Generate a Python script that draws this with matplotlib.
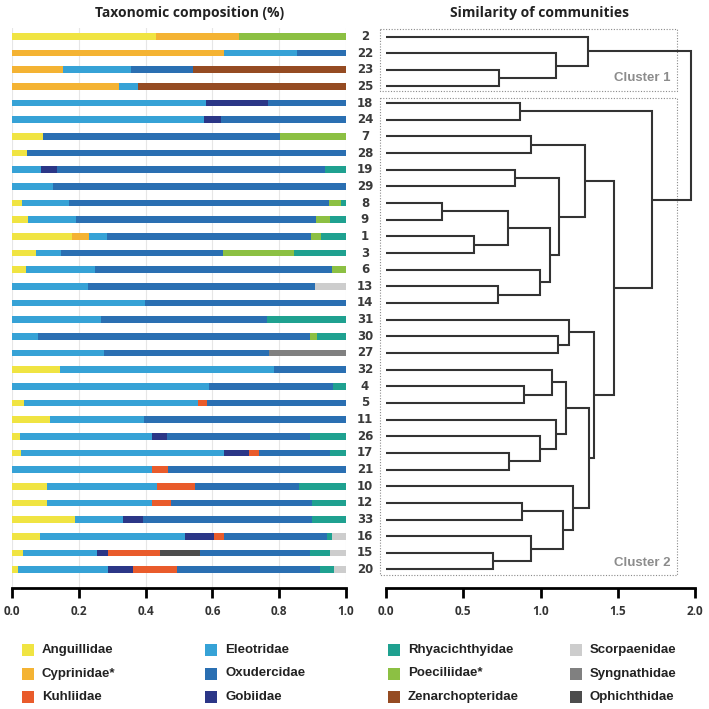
import matplotlib.pyplot as plt
from matplotlib.patches import Rectangle

plt.rcParams['font.family'] = ['Liberation Sans', 'DejaVu Sans']

# --- Data ---
# site order (top to bottom), same for bars and dendrogram leaves
sites = ['2', '22', '23', '25', '18', '24', '7', '28', '19', '29', '8',
         '9', '1', '3', '6', '13', '14', '31', '30', '27', '32', '4',
         '5', '11', '26', '17', '21', '10', '12', '33', '16', '15', '20']

# relative abundance per family (fraction), one value per site
anguillidae = [0.43, 0, 0, 0, 0, 0, 0.093, 0.045, 0, 0, 0.03,
               0.047, 0.181, 0.072, 0.043, 0, 0, 0, 0, 0, 0.144, 0,
               0.036, 0.115, 0.025, 0.028, 0, 0.104, 0.105, 0.188, 0.085, 0.034, 0.017]
cyprinidae = [0.25, 0.636, 0.153, 0.319, 0, 0, 0, 0, 0, 0, 0,
              0, 0.051, 0, 0, 0, 0, 0, 0, 0, 0, 0,
              0, 0, 0, 0, 0, 0, 0, 0, 0, 0, 0]
eleotridae = [0, 0.216, 0.203, 0.058, 0.582, 0.576, 0, 0, 0.088, 0.124, 0.142,
              0.146, 0.051, 0.076, 0.205, 0.228, 0.399, 0.266, 0.077, 0.276, 0.639, 0.589,
              0.521, 0.28, 0.394, 0.606, 0.419, 0.331, 0.314, 0.145, 0.433, 0.221, 0.271]
gobiidae = [0, 0, 0, 0, 0.183, 0.051, 0, 0, 0.046, 0, 0,
            0, 0, 0, 0, 0, 0, 0, 0, 0, 0, 0,
            0, 0, 0.044, 0.076, 0, 0, 0, 0.06, 0.087, 0.031, 0.073]
kuhliidae = [0, 0, 0, 0, 0, 0, 0, 0, 0, 0, 0,
             0, 0, 0, 0, 0, 0, 0, 0, 0, 0, 0,
             0.027, 0, 0, 0.03, 0.048, 0.114, 0.057, 0, 0.03, 0.156, 0.132]
ophichthidae = [0, 0, 0, 0, 0, 0, 0, 0, 0, 0, 0,
                0, 0, 0, 0, 0, 0, 0, 0, 0, 0, 0,
                0, 0, 0, 0, 0, 0, 0, 0, 0, 0.12, 0]
oxudercidae = [0, 0.148, 0.185, 0, 0.235, 0.373, 0.709, 0.955, 0.803, 0.876, 0.777,
               0.718, 0.612, 0.485, 0.71, 0.68, 0.601, 0.497, 0.816, 0.492, 0.217, 0.373,
               0.416, 0.605, 0.429, 0.212, 0.533, 0.31, 0.421, 0.504, 0.307, 0.33, 0.428]
poeciliidae = [0.32, 0, 0, 0, 0, 0, 0.198, 0, 0, 0, 0.035,
               0.042, 0.029, 0.211, 0.042, 0, 0, 0, 0.02, 0, 0, 0,
               0, 0, 0, 0, 0, 0, 0, 0, 0, 0, 0]
rhyacichthyidae = [0, 0, 0, 0, 0, 0, 0, 0, 0.063, 0, 0.016,
                   0.047, 0.076, 0.156, 0, 0, 0, 0.237, 0.087, 0, 0, 0.038,
                   0, 0, 0.108, 0.048, 0, 0.141, 0.103, 0.103, 0.017, 0.06, 0.043]
scorpaenidae = [0, 0, 0, 0, 0, 0, 0, 0, 0, 0, 0,
                0, 0, 0, 0, 0.092, 0, 0, 0, 0, 0, 0,
                0, 0, 0, 0, 0, 0, 0, 0, 0.041, 0.048, 0.036]
syngnathidae = [0, 0, 0, 0, 0, 0, 0, 0, 0, 0, 0,
                0, 0, 0, 0, 0, 0, 0, 0, 0.232, 0, 0,
                0, 0, 0, 0, 0, 0, 0, 0, 0, 0, 0]
zenarchopteridae = [0, 0, 0.459, 0.623, 0, 0, 0, 0, 0, 0, 0,
                    0, 0, 0, 0, 0, 0, 0, 0, 0, 0, 0,
                    0, 0, 0, 0, 0, 0, 0, 0, 0, 0, 0]

# stacking order (alphabetical) with colours
stack = [
    ('Anguillidae', anguillidae, '#F0E442'),
    ('Cyprinidae*', cyprinidae, '#F4B333'),
    ('Eleotridae', eleotridae, '#36A2D6'),
    ('Gobiidae', gobiidae, '#2B3687'),
    ('Kuhliidae', kuhliidae, '#E95B2B'),
    ('Ophichthidae', ophichthidae, '#4D4D4D'),
    ('Oxudercidae', oxudercidae, '#2A6FB2'),
    ('Poeciliidae*', poeciliidae, '#8CC043'),
    ('Rhyacichthyidae', rhyacichthyidae, '#1FA190'),
    ('Scorpaenidae', scorpaenidae, '#CDCDCD'),
    ('Syngnathidae', syngnathidae, '#808080'),
    ('Zenarchopteridae', zenarchopteridae, '#954B22'),
]
legend_order = ['Anguillidae', 'Cyprinidae*', 'Kuhliidae',
                'Eleotridae', 'Oxudercidae', 'Gobiidae',
                'Rhyacichthyidae', 'Poeciliidae*', 'Zenarchopteridae',
                'Scorpaenidae', 'Syngnathidae', 'Ophichthidae']

# dendrogram: (height, left, right)
tree = (1.972,
        (1.31, '2', (1.098, '22', (0.73, '23', '25'))),
        (1.72,
         (0.87, '18', '24'),
         (1.474,
          (1.286,
           (0.939, '7', '28'),
           (1.122,
            (0.837, '19', '29'),
            (1.064,
             (0.792, (0.362, '8', '9'), (0.57, '1', '3')),
             (0.995, '6', (0.725, '13', '14'))))),
          (1.346,
           (1.187, '31', (1.111, '30', '27')),
           (1.316,
            (1.165,
             (1.072, '32', (0.893, '4', '5')),
             (1.1, '11', (0.999, '26', (0.794, '17', '21')))),
            (1.208, '10',
             (1.148, (0.882, '12', '33'), (0.939, '16', (0.69, '15', '20')))))))))

# --- Plotting ---
W = H = 709
fig = plt.figure(figsize=(7.09, 7.09), dpi=100)

def fx(px):
    return px / W

def fy(py):
    return 1 - py / H

ax_top, ax_bot = 28, 588
row0, step = 36.5, 16.656
ylim = ((ax_bot - row0) / step, (ax_top - row0) / step)

ax1 = fig.add_axes([fx(12), fy(ax_bot), fx(346 - 12), (ax_bot - ax_top) / H])
ax2 = fig.add_axes([fx(386), fy(ax_bot), fx(695 - 386), (ax_bot - ax_top) / H])

ypos = list(range(len(sites)))

# stacked bars
left = [0.0] * len(sites)
for name, vals, col in stack:
    ax1.barh(ypos, vals, left=left, height=0.4, color=col, linewidth=0, zorder=2)
    left = [l + v for l, v in zip(left, vals)]

ax1.set_xlim(0, 1)
ax1.set_ylim(*ylim)
for g in [0, 0.2, 0.4, 0.6, 0.8, 1.0]:
    ax1.axvline(g, color='#E6E6E6', lw=0.8, zorder=0)
ax1.set_xticks([0, 0.2, 0.4, 0.6, 0.8, 1.0])

# dendrogram
line_kw = dict(color='#333333', lw=1.5, solid_joinstyle='miter', solid_capstyle='butt')

def draw(node):
    if isinstance(node, str):
        return sites.index(node), 0.0
    h, a, b = node
    ya, xa = draw(a)
    yb, xb = draw(b)
    ax2.plot([xa, h, h, xb], [ya, ya, yb, yb], **line_kw)
    return (ya + yb) / 2, h

draw(tree)
ax2.set_xlim(0, 2)
ax2.set_ylim(*ylim)
ax2.set_xticks([0, 0.5, 1.0, 1.5, 2.0])

for i, s in enumerate(sites):
    ax2.text(-0.136, i, s, ha='center', va='center', fontsize=8.5,
             fontweight='bold', color='#3A3A3A', clip_on=False,
             family='DejaVu Sans')

# cluster boxes
def to_y(py):
    return (py - row0) / step

bx0, bx1 = (380 - 386) / 154.5, (677 - 386) / 154.5
for top, bot, lab in [(28.5, 90.7, 'Cluster 1'), (97.7, 575, 'Cluster 2')]:
    ax2.add_patch(Rectangle((bx0, to_y(top)), bx1 - bx0, to_y(bot) - to_y(top),
                            fill=False, ls=(0, (1, 1.5)), lw=0.8, ec='#8A8A8A', clip_on=False))
    ax2.text(bx1 - 0.045, to_y(bot) - 0.75, lab, ha='right', va='center',
             fontsize=9.5, fontweight='bold', color='#8C8C8C')

for ax in (ax1, ax2):
    for sp in ('left', 'right', 'top'):
        ax.spines[sp].set_visible(False)
    ax.spines['bottom'].set_linewidth(2)
    ax.set_yticks([])
    ax.tick_params(axis='x', length=7, width=2, direction='out', pad=5,
                   labelsize=8.5, labelcolor='#333333')
    for t in ax.get_xticklabels():
        t.set_fontweight('bold')
        t.set_family('Open Sans')
    ax.set_facecolor('none')

# titles
fig.text(fx(190), fy(13), 'Taxonomic composition (%)', ha='center', va='center',
         fontsize=10, fontweight='bold', color='#222222', family='Open Sans')
fig.text(fx(540), fy(13), 'Similarity of communities', ha='center', va='center',
         fontsize=10, fontweight='bold', color='#222222', family='Open Sans')

# legend
colors = {name: col for name, _, col in stack}
col_x = [22, 205, 388, 570]
row_y = [650, 673.5, 697]
for k, name in enumerate(legend_order):
    cx, ry = col_x[k // 3], row_y[k % 3]
    fig.add_artist(Rectangle((fx(cx), fy(ry + 6)), fx(12), 12 / H,
                             transform=fig.transFigure, color=colors[name], lw=0))
    fig.text(fx(cx + 20), fy(ry), name, ha='left', va='center', fontsize=9.5,
             fontweight='bold', color='#222222')

fig.savefig('out.png', dpi=100, facecolor='white')
